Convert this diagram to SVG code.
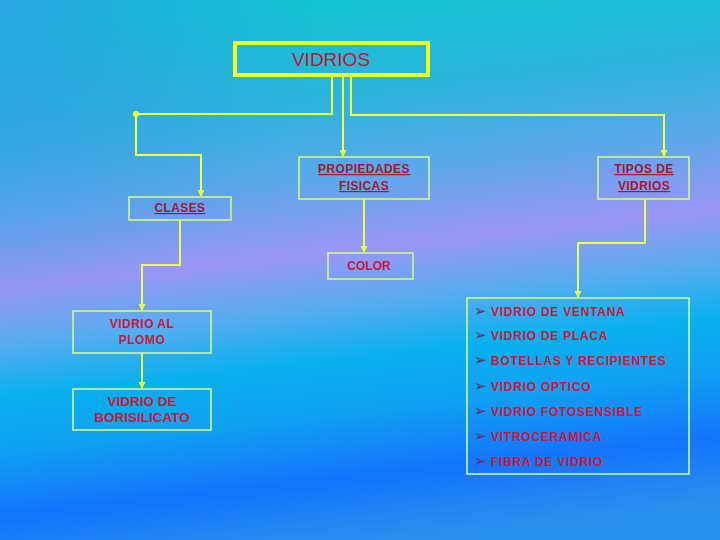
<svg xmlns="http://www.w3.org/2000/svg" width="720" height="540" viewBox="0 0 720 540">
<defs>
<linearGradient id="bg" gradientUnits="userSpaceOnUse" x1="330" y1="0" x2="390" y2="540">
<stop offset="0" stop-color="#12c4d2"/>
<stop offset="0.18" stop-color="#2cb4dc"/>
<stop offset="0.32" stop-color="#5aa8ea"/>
<stop offset="0.46" stop-color="#9a96f6"/>
<stop offset="0.56" stop-color="#58acf0"/>
<stop offset="0.66" stop-color="#08b0ee"/>
<stop offset="0.76" stop-color="#10a0f2"/>
<stop offset="0.88" stop-color="#1474fc"/>
<stop offset="1" stop-color="#2a90ee"/>
</linearGradient>
<radialGradient id="tl" gradientUnits="userSpaceOnUse" cx="0" cy="0" r="320">
<stop offset="0" stop-color="#3a8cf0" stop-opacity="0.55"/>
<stop offset="1" stop-color="#3a8cf0" stop-opacity="0"/>
</radialGradient>
<marker id="ah" viewBox="0 0 8 8" refX="7" refY="4" markerWidth="7" markerHeight="7" markerUnits="userSpaceOnUse" orient="auto">
<path d="M0,0 L8,4 L0,8 Z" fill="#eeff3a"/>
</marker>
<marker id="dot" viewBox="0 0 8 8" refX="4" refY="4" markerWidth="6" markerHeight="6" markerUnits="userSpaceOnUse">
<circle cx="4" cy="4" r="4" fill="#eeff3a"/>
</marker>
</defs>
<style>
.box{fill:none;stroke:#d6ff7a;stroke-width:1.5}
.con{fill:none;stroke:#eeff44;stroke-width:2}
.tw{font-family:"Liberation Sans","DejaVu Sans",sans-serif;font-weight:bold;text-anchor:middle}
.hd{fill:#a3182e;font-size:12px;letter-spacing:0.4px;text-decoration:underline}
.rd{fill:#d01638}
.li{font-family:"Liberation Sans","DejaVu Sans",sans-serif;font-weight:bold;font-size:12px;letter-spacing:0.75px;fill:#d01638}
.bu{font-family:"DejaVu Sans",sans-serif;font-size:15px;fill:#6a2a5a}
</style>
<rect width="720" height="540" fill="url(#bg)"/>
<rect width="720" height="540" fill="url(#tl)"/>
<g id="connectors">
<path class="con" d="M332,75 V114 H136" marker-end="url(#dot)"/>
<path class="con" d="M136,114 V155 H201 V196" marker-end="url(#ah)"/>
<path class="con" d="M343,75 V156" marker-end="url(#ah)"/>
<path class="con" d="M351,75 V115 H664 V156" marker-end="url(#ah)"/>
<path class="con" d="M364,199 V252" marker-end="url(#ah)"/>
<path class="con" d="M180,220 V265 H142 V310" marker-end="url(#ah)"/>
<path class="con" d="M142,353 V388" marker-end="url(#ah)"/>
<path class="con" d="M645,199 V243 H578 V297" marker-end="url(#ah)"/>
</g>
<g id="vidrios">
<rect x="235" y="43" width="193" height="32" fill="none" stroke="#f0ff24" stroke-width="4"/>
<text x="331" y="66" font-family="Liberation Sans, Arial, sans-serif" font-size="19" fill="#c8102e" text-anchor="middle">VIDRIOS</text>
</g>
<g id="propiedades">
<rect class="box" x="299" y="157" width="130" height="42"/>
<text class="tw hd" x="364" y="173">PROPIEDADES</text>
<text class="tw hd" x="364" y="190">FISICAS</text>
</g>
<g id="tipos">
<rect class="box" x="598" y="157" width="91" height="42"/>
<text class="tw hd" x="644" y="173">TIPOS DE</text>
<text class="tw hd" x="644" y="190">VIDRIOS</text>
</g>
<g id="clases">
<rect class="box" x="129" y="197" width="102" height="23"/>
<text class="tw hd" x="180" y="212">CLASES</text>
</g>
<g id="color">
<rect class="box" x="328" y="253" width="85" height="26"/>
<text class="tw rd" x="369" y="270" font-size="12">COLOR</text>
</g>
<g id="plomo">
<rect class="box" x="73" y="311" width="138" height="42"/>
<text class="tw rd" x="142" y="328" font-size="12" letter-spacing="0.5">VIDRIO AL</text>
<text class="tw rd" x="142" y="344" font-size="12" letter-spacing="0.5">PLOMO</text>
</g>
<g id="borisilicato">
<rect class="box" x="73" y="389" width="138" height="41"/>
<text class="tw rd" x="142" y="406" font-size="13.5">VIDRIO DE</text>
<text class="tw rd" x="142" y="422" font-size="13.5">BORISILICATO</text>
</g>
<g id="lista">
<rect class="box" x="467" y="298" width="222" height="176"/>
<text class="bu" x="474" y="316">➢</text><text class="li" x="491" y="315.5">VIDRIO DE VENTANA</text>
<text class="bu" x="474" y="340">➢</text><text class="li" x="491" y="339.5">VIDRIO DE PLACA</text>
<text class="bu" x="474" y="365">➢</text><text class="li" x="491" y="364.5">BOTELLAS Y RECIPIENTES</text>
<text class="bu" x="474" y="391">➢</text><text class="li" x="491" y="390.5">VIDRIO OPTICO</text>
<text class="bu" x="474" y="416">➢</text><text class="li" x="491" y="415.5">VIDRIO FOTOSENSIBLE</text>
<text class="bu" x="474" y="441">➢</text><text class="li" x="491" y="440.5">VITROCERAMICA</text>
<text class="bu" x="474" y="466">➢</text><text class="li" x="491" y="465.5">FIBRA DE VIDRIO</text>
</g>
</svg>
